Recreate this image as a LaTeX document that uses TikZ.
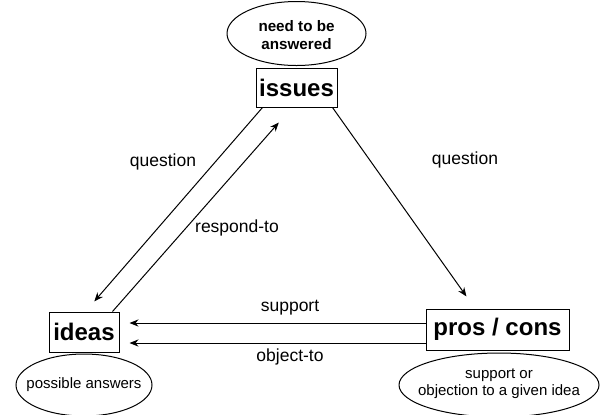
\documentclass[tikz,border=0pt]{standalone}
\usepackage{fontspec}
\setmainfont{Liberation Sans}
\usetikzlibrary{arrows.meta}
\begin{document}
\begin{tikzpicture}[x=0.5pt,y=-0.5pt,
  concept/.style={draw,line width=0.5pt,inner sep=0pt,font=\fontsize{12}{14}\selectfont\bfseries},
  note/.style={inner sep=0pt,align=center,font=\fontsize{7.5}{8.5}\selectfont},
  noteline/.style={line width=0.5pt},
  rel/.style={line width=0.5pt,-{Stealth[length=4.5pt,width=3.6pt]}},
  lbl/.style={font=\fontsize{8.75}{10}\selectfont}]
\useasboundingbox (0,0) rectangle (603,414);

% the three kinds of element
\node[concept,minimum width=40.5pt,minimum height=19.5pt] (issues) at (296.5,87.5) {issues};
\node[concept,minimum width=35pt,minimum height=20pt] (ideas) at (84,332) {ideas};
\node[concept,minimum width=71.5pt,minimum height=20.5pt] (pros) at (497.5,329.5) {pros / cons};

% explanatory notes, each inside an ellipse
\node[note,font=\fontsize{7.6}{8.6}\selectfont\bfseries] (needans) at (296.5,35) {need to be\\answered};
\draw[noteline] (needans.center) ++(0,-1.5) ellipse [x radius=34.75pt,y radius=16pt];
\node[note] (possans) at (84,385) {possible answers};
\draw[noteline] (possans.center) ellipse [x radius=34pt,y radius=15.5pt];
\node[note] (suppobj) at (499,384) {support or\\objection to a given idea};
\draw[noteline] (suppobj.center) ++(0,1) ellipse [x radius=50pt,y radius=16pt];

% relations
\draw[rel,shorten >=6.7pt] ([xshift=3.5pt]issues.south west) -- ([xshift=18.5pt]ideas.north west);
\draw[rel,shorten >=10pt] ([xshift=-3.5pt]ideas.north east) -- ([xshift=-2.25pt]issues.south);
\draw[rel,shorten >=7.4pt] ([xshift=-2.5pt]issues.south east) -- ([xshift=24.75pt]pros.north west);
\draw[rel,shorten >=5pt] ([yshift=3.25pt]pros.west) -- ([yshift=3.25pt]pros.west -| ideas.east);
\draw[rel,shorten >=5pt] ([yshift=-6.75pt]pros.west) -- ([yshift=-6.75pt]pros.west -| ideas.east);

% relation names
\node[lbl] (qleft) at (163,162) {question};
\node[lbl] (resp) at (237,228) {respond-to};
\node[lbl] (qright) at (465,160) {question};
\node[lbl] (supp) at (290,308) {support};
\node[lbl] (obj) at (290,357) {object-to};
\end{tikzpicture}
\end{document}
